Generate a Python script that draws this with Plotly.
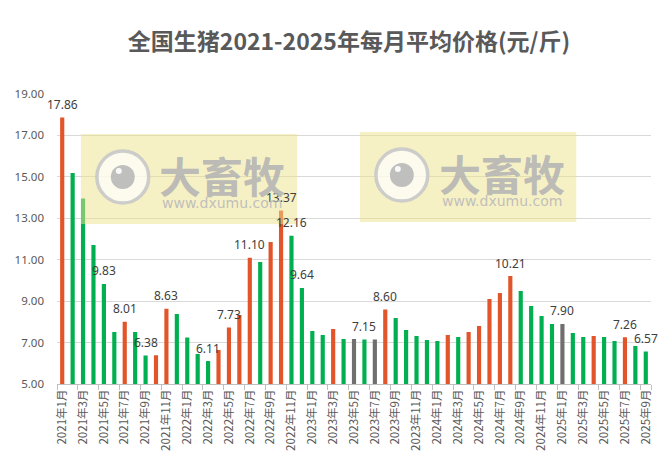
import plotly.graph_objects as go

months = [f"{y}年{m}月" for y in range(2021, 2026) for m in range(1, 13)][:57]

prices = [17.86, 15.19, 13.95, 11.71, 9.83, 7.51, 8.01, 7.51, 6.38, 6.39,
          8.63, 8.38, 7.24, 6.45, 6.11, 6.64, 7.73, 8.33, 11.10, 10.89,
          11.86, 13.37, 12.16, 9.64, 7.56, 7.37, 7.66, 7.17, 7.17, 7.15,
          7.15, 8.60, 8.19, 7.61, 7.32, 7.12, 7.08, 7.37, 7.27, 7.51,
          7.80, 9.10, 9.39, 10.21, 9.49, 8.77, 8.28, 7.90, 7.90, 7.46,
          7.27, 7.32, 7.27, 7.08, 7.26, 6.83, 6.57]

trend = list("UDDDDDUDDUUDDDDUUUUDUUDDDDUDFDFUDDDDDUDUUUUUDDDDFDDUDDUDD")

labeled = ["2021年1月", "2021年5月", "2021年7月", "2021年9月", "2021年11月",
           "2022年3月", "2022年5月", "2022年7月", "2022年10月", "2022年11月",
           "2022年12月", "2023年6月", "2023年8月", "2024年8月", "2025年1月",
           "2025年7月", "2025年9月"]

tick_labels = months[::2]

color_map = {"U": "#E2552A", "D": "#00B050", "F": "#6F6F6F"}
colors = [color_map[t] for t in trend]
xs = list(range(len(months)))

fig = go.Figure()
fig.add_trace(go.Bar(
    x=xs, y=prices, marker_color=colors, marker_line_width=0,
    hoverinfo="skip", width=0.4,
))

L, R, T, B = 57, 12, 94, 86
W, H = 665, 470
pw, ph = W - L - R, H - T - B


def px(x):
    return (x - L) / pw


def py(y):
    return (H - B - y) / ph


shapes = []
annotations = []

for i, (m, v) in enumerate(zip(months, prices)):
    if m in labeled:
        annotations.append(dict(x=i, y=v, xref="x", yref="y", text=f"{v:.2f}",
                                showarrow=False, xanchor="center", yanchor="middle",
                                yshift=13,
                                font=dict(size=12, color="#404040",
                                          family="Noto Sans, Liberation Sans, sans-serif")))

for dx, dy in [(0, 0), (280, -2)]:
    x0, x1, y0, y1 = 81 + dx, 298 + dx, 134 + dy, 224 + dy
    shapes.append(dict(type="rect", xref="paper", yref="paper", layer="above",
                       x0=px(x0), x1=px(x1), y0=py(y1), y1=py(y0),
                       line_width=0, fillcolor="rgba(238,226,140,0.5)"))
    cx, cy = 123 + dx, 177 + dy
    for r, fill, lw, lc in [(26, "rgba(255,255,255,0.7)", 3.5, "rgba(200,200,200,0.9)"),
                            (12, "rgba(180,180,180,0.85)", 0, "rgba(0,0,0,0)"),
                            (3, "rgba(255,255,255,0.9)", 0, "rgba(0,0,0,0)")]:
        ox, oy = (-4, -6) if r == 3 else (0, 0)
        shapes.append(dict(type="circle", xref="paper", yref="paper", layer="above",
                           x0=px(cx + ox - r), x1=px(cx + ox + r),
                           y0=py(cy + oy + r), y1=py(cy + oy - r),
                           fillcolor=fill, line=dict(width=lw, color=lc)))
    annotations.append(dict(text="大畜牧", xref="paper", yref="paper",
                            x=px(223 + dx), y=py(174 + dy), showarrow=False,
                            font=dict(size=42, color="rgba(180,180,180,0.9)",
                                      family="Noto Sans CJK SC", weight=700),
                            xanchor="center", yanchor="middle"))
    annotations.append(dict(text="www.dxumu.com", xref="paper", yref="paper",
                            x=px(223 + dx), y=py(203 + dy), showarrow=False,
                            font=dict(size=14, color="rgba(185,185,185,0.9)",
                                      family="DejaVu Sans"),
                            xanchor="center", yanchor="middle"))

fig.update_layout(
    width=W, height=H,
    margin=dict(l=L, r=R, t=T, b=B),
    paper_bgcolor="white", plot_bgcolor="white",
    showlegend=False,
    title=dict(text="<b>全国生猪2021-2025年每月平均价格(元/斤)</b>",
               x=349 / W, xanchor="center", y=1 - 42 / H, yanchor="middle",
               font=dict(size=23, color="#595959", family="Noto Sans CJK SC")),
    xaxis=dict(range=[-0.5, len(months) - 0.5],
               tickmode="array", tickvals=xs[::2], ticktext=tick_labels,
               tickangle=-90, ticks="", showgrid=False,
               showline=True, linecolor="#BFBFBF", linewidth=1,
               tickfont=dict(size=11.5, color="#595959", family="Noto Sans CJK SC"),
               minor=dict(tickmode="array", tickvals=[x - 0.5 for x in xs[::2]] + [len(months) - 0.5],
                          ticks="outside", ticklen=5, tickcolor="#BFBFBF", showgrid=False)),
    yaxis=dict(range=[5, 19], tickmode="linear", tick0=5, dtick=2, tickformat=".2f",
               showgrid=True, gridcolor="#D9D9D9", gridwidth=1, zeroline=False,
               tickfont=dict(size=11.5, color="#595959", family="Noto Sans, Liberation Sans, sans-serif"),
               ticks="", ticklabelstandoff=12),
    bargap=0.6,
    shapes=shapes, annotations=annotations,
)

fig.write_html("out.html", config={"displayModeBar": False, "staticPlot": True},
               post_script="document.body.style.margin='0';document.body.style.padding='0';")
